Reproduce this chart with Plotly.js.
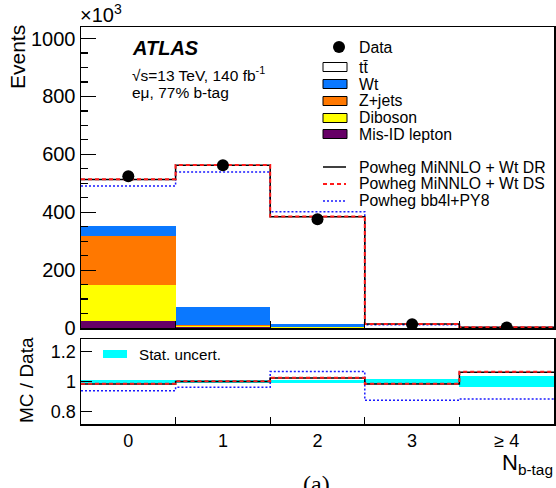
<!DOCTYPE html>
<html>
<head>
<meta charset="utf-8">
<script src="https://cdn.plot.ly/plotly-3.0.1.min.js"></script>
<style>
  html, body { margin: 0; padding: 0; background: #fff; }
  #chart { width: 556px; height: 488px; }
</style>
</head>
<body>
<div id="chart"></div>
<script>
// b-tag multiplicity bins
const binLabels = ['0', '1', '2', '3', '\u2265 4'];
const binCenters = [0, 1, 2, 3, 4];

// Event yields (in units of 10^3)
const dataYield = [524, 562, 376, 13, 1.5];
const misIdLepton = [25, 3, 1, 0.2, 0.02];
const diboson = [125, 3, 1, 0.1, 0.02];
const zJets = [167, 3, 1, 0.1, 0.02];
const wt = [34, 65, 11, 1, 0.2];
const ttbar = [162, 488, 370, 12, 2];
const totalWtDS = [514, 563, 385, 13.5, 2.2];
const totalBb4l = [491, 539, 402, 11.5, 1.9];

// MC / Data ratios and statistical uncertainty (half-width)
const ratioWtDR = [0.983, 1.0, 1.023, 0.983, 1.063];
const ratioWtDS = [0.985, 1.002, 1.025, 0.985, 1.065];
const ratioBb4l = [0.938, 0.962, 1.067, 0.873, 0.882];
const statUncert = [0.008, 0.008, 0.012, 0.015, 0.04];

// Colours
const C_WT = '#0a78ff', C_Z = '#ff7800', C_DIB = '#ffff00', C_MIS = '#660066', C_STAT = '#00ffff';

// Derived: bin edges and nominal total (stack sum)
const edges = binCenters.map(c => c - 0.5).concat([binCenters[binCenters.length - 1] + 0.5]);
const innerEdges = edges.slice(1, -1);
const totalWtDR = binCenters.map((_, i) => misIdLepton[i] + diboson[i] + zJets[i] + wt[i] + ttbar[i]);
const step = v => v.concat([v[v.length - 1]]);

const FONT = 'Liberation Sans, Arial, Helvetica, sans-serif';

function bar(y, color, name) {
  return { type: 'bar', x: binCenters, y: y, width: 1, name: name,
    marker: { color: color, line: { width: 0 } }, xaxis: 'x', yaxis: 'y', hoverinfo: 'skip' };
}
function stepLine(y, color, width, dash, xa, ya) {
  return { type: 'scatter', mode: 'lines', x: edges, y: step(y),
    line: { shape: 'hv', color: color, width: width, dash: dash },
    xaxis: xa, yaxis: ya, hoverinfo: 'skip' };
}

const traces = [
  bar(misIdLepton, C_MIS, 'Mis-ID lepton'),
  bar(diboson, C_DIB, 'Diboson'),
  bar(zJets, C_Z, 'Z+jets'),
  bar(wt, C_WT, 'Wt'),
  bar(ttbar, '#ffffff', 'tt\u0304'),
  stepLine(totalBb4l, '#1a1aff', 1.5, '2px,2px', 'x', 'y'),
  stepLine(totalWtDR, '#000000', 1.5, 'solid', 'x', 'y'),
  stepLine(totalWtDS, '#ff1a1a', 2, '4px,3px', 'x', 'y'),
  { type: 'scatter', mode: 'markers', x: binCenters, y: dataYield, name: 'Data',
    marker: { color: '#000', size: 12 }, xaxis: 'x', yaxis: 'y', hoverinfo: 'skip' },
  // ratio panel
  { type: 'bar', x: binCenters, base: statUncert.map(s => 1 - s), y: statUncert.map(s => 2 * s),
    width: 1, marker: { color: C_STAT, line: { width: 0 } }, xaxis: 'x2', yaxis: 'y2', hoverinfo: 'skip' },
  stepLine(ratioBb4l, '#1a1aff', 1.5, '2px,2px', 'x2', 'y2'),
  stepLine(ratioWtDR, '#000000', 1.5, 'solid', 'x2', 'y2'),
  stepLine(ratioWtDS, '#ff1a1a', 2, '4px,3px', 'x2', 'y2')
];

// stacked histogram: accumulate bases so the bars stack in overlay mode
(function stack() {
  const acc = binCenters.map(() => 0);
  for (let k = 0; k < 5; k++) {
    const t = traces[k];
    t.base = acc.slice();
    t.y.forEach((v, i) => { acc[i] += v; });
  }
})();

// pixel -> paper helpers for the plot frame (81..554 x 27..424)
const L = 81, R = 554, T = 27, B = 424;
const px = x => (x - L) / (R - L);
const py = y => (B - y) / (B - T);

function txt(text, x, y, size, opts) {
  return Object.assign({ text: text, xref: 'paper', yref: 'paper', x: px(x), y: py(y),
    xanchor: 'left', yanchor: 'middle', showarrow: false,
    font: { family: FONT, size: size, color: '#000' } }, opts || {});
}

const legendRows = [
  { label: 'Data', y: 47, kind: 'dot' },
  { label: 't\u0074\u0304', y: 67, kind: 'box', color: '#ffffff' },
  { label: 'Wt', y: 84, kind: 'box', color: C_WT },
  { label: 'Z+jets', y: 101, kind: 'box', color: C_Z },
  { label: 'Diboson', y: 118, kind: 'box', color: C_DIB },
  { label: 'Mis-ID lepton', y: 134, kind: 'box', color: C_MIS },
  { label: 'Powheg MiNNLO + Wt DR', y: 167, kind: 'line', color: '#000', dash: 'solid', w: 1.5 },
  { label: 'Powheg MiNNLO + Wt DS', y: 184, kind: 'line', color: '#ff1a1a', dash: '4px,3px', w: 2 },
  { label: 'Powheg bb4l+PY8', y: 201, kind: 'line', color: '#1a1aff', dash: '2px,2px', w: 1.5 }
];

const shapes = [];
const annotations = [];
legendRows.forEach(r => {
  annotations.push(txt(r.label, 357, r.y, 15.8));
  if (r.kind === 'dot') {
    shapes.push({ type: 'circle', xref: 'paper', yref: 'paper', x0: px(333), x1: px(345), y0: py(r.y + 6), y1: py(r.y - 6),
      fillcolor: '#000', line: { width: 0 } });
  } else if (r.kind === 'box') {
    shapes.push({ type: 'rect', xref: 'paper', yref: 'paper', x0: px(323), x1: px(347), y0: py(r.y + 4.5), y1: py(r.y - 4.5),
      fillcolor: r.color, line: { color: '#000', width: 1 } });
  } else {
    shapes.push({ type: 'line', xref: 'paper', yref: 'paper', x0: px(323), x1: px(346), y0: py(r.y), y1: py(r.y),
      line: { color: r.color, width: r.w, dash: r.dash } });
  }
});
// ratio legend
shapes.push({ type: 'rect', xref: 'paper', yref: 'paper', x0: px(103), x1: px(127), y0: py(358), y1: py(350),
  fillcolor: C_STAT, line: { width: 0 } });
annotations.push(txt('Stat. uncert.', 137, 354, 15.2));

annotations.push(txt('<b><i>ATLAS</i></b>', 130, 48, 20));
annotations.push(txt('\u221As=13 TeV, 140 fb<sup>-1</sup>', 130, 74, 15.5));
annotations.push(txt('e\u03bc, 77% b-tag', 130, 92, 15.5));
annotations.push(txt('\u00d710<sup>3</sup>', 78, 28, 20, { yanchor: 'bottom' }));
annotations.push(txt('Events', 17, 57, 21, { xanchor: 'center', textangle: -90 }));
annotations.push(txt('MC / Data', 26, 380, 19, { xanchor: 'center', textangle: -90 }));
annotations.push(txt('N<sub>b-tag</sub>', 555, 464, 22, { xanchor: 'right' }));
annotations.push(txt('(a)', 316, 469, 24, { xanchor: 'center', yanchor: 'top',
  font: { family: 'Liberation Serif, Times New Roman, serif', size: 24, color: '#000' } }));

const TICK = { ticks: 'inside', tickwidth: 1.2, tickcolor: '#000' };
const xCommon = Object.assign({
  range: [-0.5, 4.5], tickmode: 'array', tickvals: binCenters, ticktext: binLabels,
  ticklen: 0, showline: true, mirror: true, linecolor: '#000', linewidth: 1.5,
  showgrid: false, zeroline: false,
  minor: Object.assign({ tickmode: 'array', tickvals: innerEdges, ticklen: 7, showgrid: false }, TICK),
  tickfont: { family: FONT, size: 18, color: '#000' }
}, TICK);

// top-edge bin ticks
function topX(over, anchor) {
  return Object.assign({ overlaying: over, anchor: anchor, side: 'top', range: [-0.5, 4.5],
    tickmode: 'array', tickvals: innerEdges, ticklen: 7, showticklabels: false,
    showline: false, showgrid: false, zeroline: false }, TICK);
}

const yMainTicks = [0, 200, 400, 600, 800, 1000];
const yRatioTicks = [0.8, 1, 1.2];

const layout = {
  width: 556, height: 488,
  margin: { l: L, r: 556 - R, t: T, b: 488 - B },
  paper_bgcolor: '#fff', plot_bgcolor: '#fff',
  showlegend: false,
  barmode: 'overlay', bargap: 0,
  xaxis: Object.assign({}, xCommon, { anchor: 'y', showticklabels: false }),
  xaxis2: Object.assign({}, xCommon, { anchor: 'y2', matches: 'x', showticklabels: true }),
  xaxis3: topX('x', 'y'),
  xaxis4: topX('x2', 'y2'),
  yaxis: Object.assign({
    domain: [(B - 328) / (B - T), 1], anchor: 'x', range: [0, 1040],
    tickmode: 'array', tickvals: yMainTicks, ticklen: 15,
    minor: Object.assign({ dtick: 50, tick0: 0, ticklen: 7, showgrid: false }, TICK),
    showline: true, mirror: true, linecolor: '#000', linewidth: 1.5,
    showgrid: false, zeroline: false,
    tickfont: { family: FONT, size: 20, color: '#000' }
  }, TICK),
  yaxis3: Object.assign({
    overlaying: 'y', anchor: 'x', side: 'right', range: [0, 1040],
    tickmode: 'array', tickvals: yMainTicks, ticklen: 15, showticklabels: false,
    minor: Object.assign({ dtick: 50, tick0: 0, ticklen: 7, showgrid: false }, TICK),
    showline: false, showgrid: false, zeroline: false
  }, TICK),
  yaxis2: Object.assign({
    domain: [0, (B - 339) / (B - T)], anchor: 'x2', range: [0.714, 1.286],
    tickmode: 'array', tickvals: yRatioTicks, ticktext: ['0.8', '1', '1.2'], ticklen: 11,
    showline: true, mirror: true, linecolor: '#000', linewidth: 1.5,
    showgrid: false, zeroline: false,
    tickfont: { family: FONT, size: 18, color: '#000' }
  }, TICK),
  yaxis4: Object.assign({
    overlaying: 'y2', anchor: 'x2', side: 'right', range: [0.714, 1.286],
    tickmode: 'array', tickvals: yRatioTicks, ticklen: 11, showticklabels: false,
    showline: false, showgrid: false, zeroline: false
  }, TICK),
  shapes: shapes,
  annotations: annotations
};

Plotly.newPlot('chart', traces, layout, { displayModeBar: false, staticPlot: true });
</script>
</body>
</html>
